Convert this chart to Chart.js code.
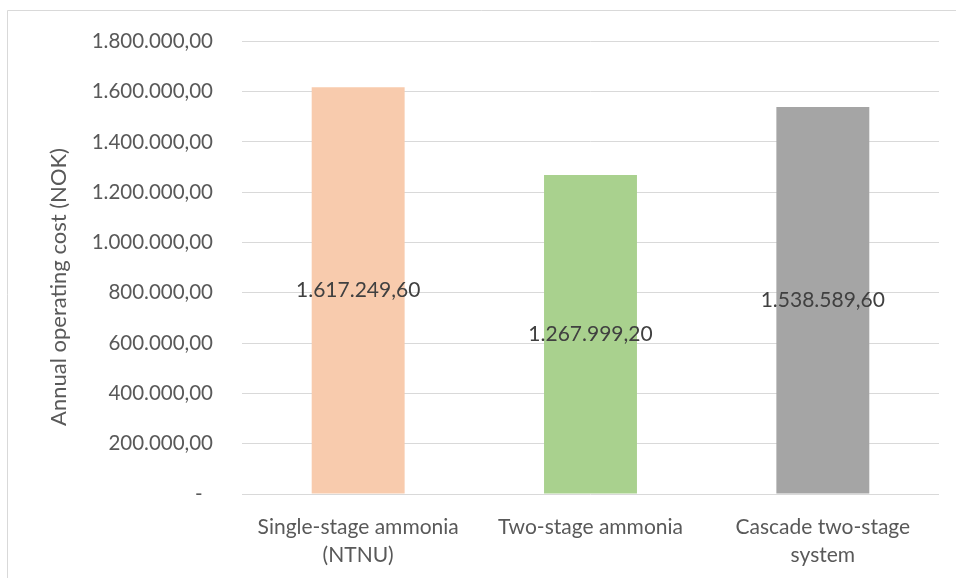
<!DOCTYPE html>
<html>
<head>
<meta charset="utf-8">
<script src="https://cdn.jsdelivr.net/npm/chart.js@4/dist/chart.umd.min.js"></script>
<style>
  html, body { margin: 0; padding: 0; background: #fff; }
  #wrap { width: 956px; height: 578px; position: relative; }
</style>
</head>
<body>
<div id="wrap"><canvas id="chart"></canvas></div>
<script>
// data
var categories = [
    ['Single-stage ammonia', '(NTNU)'],
    'Two-stage ammonia',
    ['Cascade two-stage', 'system']
];
var costValues = [1617249.60, 1267999.20, 1538589.60];
var barColors = ['#F8CBAD', '#A9D18E', '#A5A5A5'];
var axisTitle = 'Annual operating cost (NOK)';
var yMax = 1800000;
var yStep = 200000;

var FONT = 'Lato, "Open Sans", sans-serif';

// 1234567.8 -> "1.234.567,80"
function formatNok(v) {
    var parts = v.toFixed(2).split('.');
    var intPart = parts[0].replace(/\B(?=(\d{3})+(?!\d))/g, '.');
    return intPart + ',' + parts[1];
}

// outer frame + white background
var framePlugin = {
    id: 'frame',
    beforeDraw: function(chart) {
        var ctx = chart.ctx;
        ctx.save();
        ctx.fillStyle = '#ffffff';
        ctx.fillRect(0, 0, chart.width, chart.height);
        ctx.strokeStyle = '#d9d9d9';
        ctx.lineWidth = 1;
        ctx.beginPath();
        ctx.moveTo(7.5, chart.height);
        ctx.lineTo(7.5, 10.5);
        ctx.lineTo(chart.width, 10.5);
        ctx.stroke();
        ctx.restore();
    }
};

// y axis title, placed like the excel one (a bit below the plot centre)
var yTitlePlugin = {
    id: 'yTitle',
    afterDraw: function(chart) {
        var ctx = chart.ctx;
        ctx.save();
        ctx.translate(59, 287);
        ctx.rotate(-Math.PI / 2);
        ctx.font = '22px ' + FONT;
        ctx.fillStyle = '#595959';
        ctx.textAlign = 'center';
        ctx.textBaseline = 'middle';
        ctx.fillText(axisTitle, 0, 0);
        ctx.restore();
    }
};

// value labels in the middle of each bar
var barLabelPlugin = {
    id: 'barLabels',
    afterDatasetsDraw: function(chart) {
        var ctx = chart.ctx;
        var meta = chart.getDatasetMeta(0);
        ctx.save();
        ctx.font = '21px ' + FONT;
        ctx.fillStyle = '#404040';
        ctx.textAlign = 'center';
        ctx.textBaseline = 'middle';
        meta.data.forEach(function(bar, i) {
            var v = chart.data.datasets[0].data[i];
            ctx.fillText(formatNok(v), bar.x, (bar.y + bar.base) / 2);
        });
        ctx.restore();
    }
};

var ctx = document.getElementById('chart').getContext('2d');
new Chart(ctx, {
    type: 'bar',
    data: {
        labels: categories,
        datasets: [{
            label: axisTitle,
            data: costValues,
            backgroundColor: barColors,
            borderWidth: 0,
            barPercentage: 0.4,
            categoryPercentage: 1.0
        }]
    },
    options: {
        responsive: true,
        maintainAspectRatio: false,
        animation: false,
        layout: {
            padding: { left: 0, top: 40, right: 17, bottom: 0 }
        },
        plugins: {
            legend: { display: false },
            tooltip: { enabled: false }
        },
        scales: {
            x: {
                grid: { display: false, drawTicks: false },
                border: { display: false },
                ticks: {
                    color: '#595959',
                    font: { family: FONT, size: 21, lineHeight: 1.35 },
                    padding: 19,
                    maxRotation: 0,
                    autoSkip: false
                },
                afterFit: function(scale) { scale.height = 84; }
            },
            y: {
                min: 0,
                max: yMax,
                grid: { color: '#d9d9d9', lineWidth: 1, drawTicks: false },
                border: { display: false },
                ticks: {
                    stepSize: yStep,
                    color: '#595959',
                    font: { family: FONT, size: 20.5 },
                    padding: 29,
                    callback: function(value) {
                        return value === 0 ? '-  ' : formatNok(value);
                    }
                },
                afterFit: function(scale) { scale.width = 242; }
            }
        }
    },
    plugins: [framePlugin, yTitlePlugin, barLabelPlugin]
});
</script>
</body>
</html>
